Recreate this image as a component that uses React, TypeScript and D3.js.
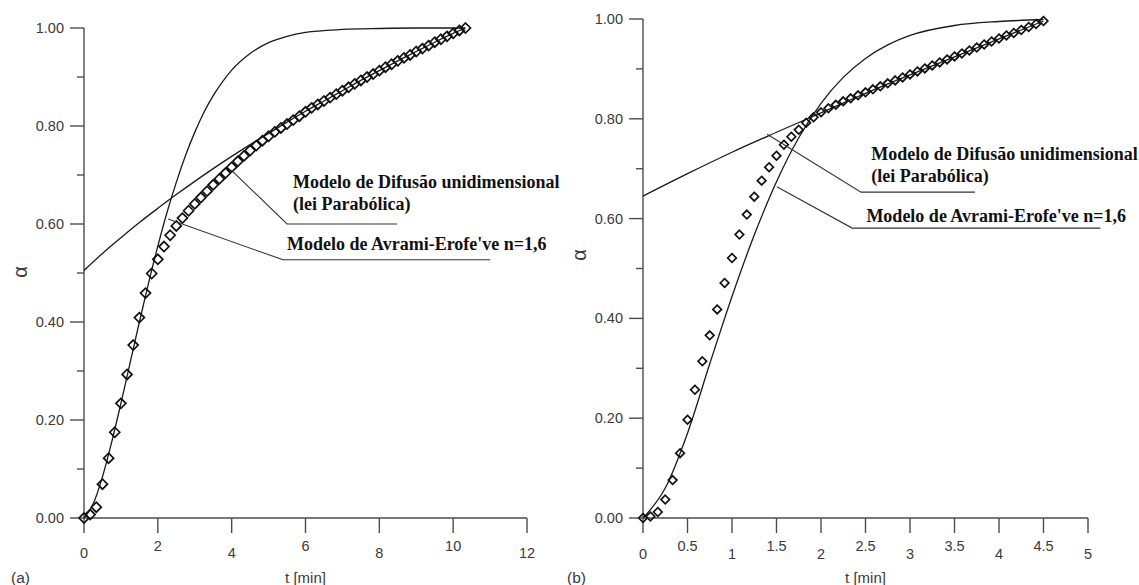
import React from "react";
import * as d3 from "d3";

// ---------- Panel (a): measurements every 10 s ----------
const sampleStepA = 1 / 6; // min
const alphaExpA = [
  0.0, 0.007, 0.022, 0.069, 0.122, 0.175, 0.234, 0.293, 0.353, 0.409,
  0.459, 0.499, 0.528, 0.554, 0.577, 0.596, 0.612, 0.627, 0.641, 0.654,
  0.667, 0.68, 0.692, 0.704, 0.716, 0.728, 0.739, 0.75, 0.76, 0.77,
  0.779, 0.788, 0.796, 0.804, 0.812, 0.82, 0.829, 0.837, 0.844, 0.851,
  0.858, 0.865, 0.872, 0.879, 0.886, 0.893, 0.9, 0.906, 0.913, 0.92,
  0.926, 0.933, 0.939, 0.945, 0.952, 0.958, 0.964, 0.971, 0.977, 0.983,
  0.989, 0.995, 1.0,
];

// Avrami-Erofe'ev model (n = 1.6), panel (a)
const avramiTA = [0, 0.25, 0.5, 0.75, 1.0, 1.25, 1.5, 1.75, 2.0, 2.25, 2.5, 2.75, 3.0, 3.25, 3.5, 3.75, 4.0, 4.5, 5.0, 5.5, 6.0, 7.0, 8.0, 9.0, 10.33];
const avramiAlphaA = [0, 0.029, 0.084, 0.155, 0.234, 0.317, 0.4, 0.48, 0.555, 0.624, 0.685, 0.74, 0.787, 0.828, 0.862, 0.89, 0.914, 0.948, 0.97, 0.983, 0.991, 0.997, 0.999, 1.0, 1.0];

// One-dimensional diffusion model (parabolic law), panel (a)
const diffTA = [0, 0.5, 1, 1.5, 2, 2.5, 3, 3.5, 4, 4.5, 5, 5.5, 6, 6.5, 7, 7.5, 8, 8.5, 9, 9.5, 10, 10.33];
const diffAlphaA = [0.505, 0.54, 0.572, 0.603, 0.632, 0.66, 0.687, 0.713, 0.738, 0.762, 0.785, 0.808, 0.83, 0.851, 0.872, 0.893, 0.913, 0.933, 0.952, 0.971, 0.989, 1.0];

// ---------- Panel (b): measurements every 5 s ----------
const sampleStepB = 1 / 12; // min
const alphaExpB = [
  0.0, 0.003, 0.012, 0.037, 0.076, 0.13, 0.197, 0.257, 0.314, 0.366,
  0.418, 0.471, 0.521, 0.568, 0.608, 0.644, 0.676, 0.703, 0.726, 0.748,
  0.764, 0.778, 0.792, 0.803, 0.813, 0.821, 0.828, 0.835, 0.841, 0.847,
  0.853, 0.859, 0.865, 0.871, 0.877, 0.883, 0.889, 0.895, 0.901, 0.907,
  0.913, 0.919, 0.925, 0.931, 0.937, 0.943, 0.949, 0.955, 0.961, 0.967,
  0.972, 0.978, 0.984, 0.99, 0.996,
];

// Avrami-Erofe'ev model (n = 1.6), panel (b)
const avramiTB = [0, 0.25, 0.5, 0.75, 1.0, 1.25, 1.5, 1.75, 2.0, 2.25, 2.5, 2.75, 3.0, 3.5, 4.0, 4.5];
const avramiAlphaB = [0, 0.06, 0.17, 0.309, 0.444, 0.567, 0.674, 0.762, 0.831, 0.883, 0.921, 0.948, 0.967, 0.987, 0.995, 0.999];

// One-dimensional diffusion model (parabolic law), panel (b)
const diffTB = [0, 0.5, 1.0, 1.5, 2.0, 2.5, 3.0, 3.5, 4.0, 4.5];
const diffAlphaB = [0.645, 0.69, 0.733, 0.773, 0.812, 0.851, 0.888, 0.924, 0.96, 0.996];

// Axis ticks
const yTicks = [0, 0.2, 0.4, 0.6, 0.8, 1.0];
const yMinorTicks = [0.1, 0.3, 0.5, 0.7, 0.9];
const xTicksA = [0, 2, 4, 6, 8, 10, 12];
const xTicksB = [0, 0.5, 1, 1.5, 2, 2.5, 3, 3.5, 4, 4.5, 5];

const modelDiff = ["Modelo de Difusão unidimensional", "(lei Parabólica)"];
const modelAvrami = "Modelo de Avrami-Erofe've n=1,6";

type Pt = [number, number];

interface PanelProps {
  tag: string;
  x0: number;
  x1: number;
  yTop: number;
  yBottom: number;
  xMax: number;
  xTicks: number[];
  step: number;
  exp: number[];
  avT: number[];
  avA: number[];
  dfT: number[];
  dfA: number[];
  marker: number;
  diffLeader: Pt[]; // data coords: start, elbow, end
  avLeader: Pt[];
  diffText: Pt; // data coords of the first line's start
  diffLineGap: number;
  avText: Pt;
  alphaPos: Pt;
  tagX: number;
  lowOffset: number;
  highOffset: number;
}

const axisColor = "#4d4d4d";
const labelColor = "#3a3a3a";
const sansFont = "'Liberation Sans', Arial, sans-serif";
const serifFont = "'Liberation Serif', 'Times New Roman', serif";
const noteSize = 18;

function Panel(p: PanelProps) {
  const x = d3.scaleLinear().domain([0, p.xMax]).range([p.x0, p.x1]);
  const y = d3.scaleLinear().domain([0, 1]).range([p.yBottom, p.yTop]);

  const line = d3
    .line<Pt>()
    .x((d) => x(d[0]))
    .y((d) => y(d[1]))
    .curve(d3.curveMonotoneX);

  const avPts: Pt[] = p.avT.map((t, i) => [t, p.avA[i]]);
  const dfPts: Pt[] = p.dfT.map((t, i) => [t, p.dfA[i]]);
  const expPts: Pt[] = p.exp.map((a, k) => [k * p.step, a]);

  const r = p.marker;
  const diamond = `M0,${-r}L${r},0L0,${r}L${-r},0Z`;

  const leaderPath = (pts: Pt[]) =>
    "M" + pts.map((q) => `${x(q[0])},${y(q[1])}`).join("L");

  const xLabels = p.xTicks.map((v, i) => ({ v, low: i % 2 === 0 }));

  return (
    <g>
      {/* axes */}
      <line x1={p.x0} x2={p.x0} y1={p.yTop} y2={p.yBottom} stroke={axisColor} strokeWidth={1.4} />
      <line x1={p.x0} x2={p.x1} y1={p.yBottom} y2={p.yBottom} stroke={axisColor} strokeWidth={1.4} />
      {yTicks.map((v) => (
        <g key={"yt" + v}>
          <line x1={p.x0 - 14} x2={p.x0} y1={y(v)} y2={y(v)} stroke={axisColor} strokeWidth={1.4} />
          <text
            x={p.x0 - 20}
            y={y(v)}
            dy="0.35em"
            textAnchor="end"
            fontFamily={sansFont}
            fontSize={14.5}
            fill={labelColor}
          >
            {d3.format(".2f")(v)}
          </text>
        </g>
      ))}
      {yMinorTicks.map((v) => (
        <line key={"ym" + v} x1={p.x0 - 7} x2={p.x0} y1={y(v)} y2={y(v)} stroke={axisColor} strokeWidth={1.4} />
      ))}
      {xLabels.map(({ v, low }) => (
        <g key={"xt" + v}>
          <line x1={x(v)} x2={x(v)} y1={p.yBottom} y2={p.yBottom + 15} stroke={axisColor} strokeWidth={1.4} />
          <text
            x={x(v)}
            y={p.yBottom + (low ? p.lowOffset : p.highOffset)}
            textAnchor="middle"
            fontFamily={sansFont}
            fontSize={14.5}
            fill={labelColor}
          >
            {String(v)}
          </text>
        </g>
      ))}
      <text
        x={(p.x0 + p.x1) / 2}
        y={583}
        textAnchor="middle"
        fontFamily={sansFont}
        fontSize={15}
        fill={labelColor}
      >
        t [min]
      </text>
      <text x={p.tagX} y={583} fontFamily={sansFont} fontSize={15.5} fill={labelColor}>
        {p.tag}
      </text>
      <text
        transform={`translate(${p.alphaPos[0]},${p.alphaPos[1]}) rotate(-90)`}
        textAnchor="middle"
        fontFamily={sansFont}
        fontSize={20}
        fill={labelColor}
      >
        α
      </text>

      {/* model curves */}
      <path d={line(dfPts) ?? ""} fill="none" stroke="#1a1a1a" strokeWidth={1.3} />
      <path d={line(avPts) ?? ""} fill="none" stroke="#1a1a1a" strokeWidth={1.3} />

      {/* experimental points */}
      {expPts.map((d, i) => (
        <path
          key={"e" + i}
          d={diamond}
          transform={`translate(${x(d[0])},${y(d[1])})`}
          fill="none"
          stroke="#111"
          strokeWidth={1.7}
        />
      ))}

      {/* annotations */}
      <path d={leaderPath(p.diffLeader)} fill="none" stroke="#333" strokeWidth={1.1} />
      <path d={leaderPath(p.avLeader)} fill="none" stroke="#333" strokeWidth={1.1} />
      <text
        x={x(p.diffText[0])}
        y={y(p.diffText[1])}
        fontFamily={serifFont}
        fontWeight="bold"
        fontSize={noteSize}
        fill="#111"
      >
        {modelDiff[0]}
      </text>
      <text
        x={x(p.diffText[0])}
        y={y(p.diffText[1]) + p.diffLineGap}
        fontFamily={serifFont}
        fontWeight="bold"
        fontSize={noteSize}
        fill="#111"
      >
        {modelDiff[1]}
      </text>
      <text
        x={x(p.avText[0])}
        y={y(p.avText[1])}
        fontFamily={serifFont}
        fontWeight="bold"
        fontSize={noteSize}
        fill="#111"
      >
        {modelAvrami}
      </text>
    </g>
  );
}

export default function App() {
  return (
    <div style={{ position: "fixed", left: 0, top: 0 }}>
      <svg width={1139} height={585} style={{ display: "block", background: "#fff" }}>
        <Panel
          tag="(a)"
          x0={84}
          x1={527}
          yTop={28}
          yBottom={518}
          xMax={12}
          xTicks={xTicksA}
          step={sampleStepA}
          exp={alphaExpA}
          avT={avramiTA}
          avA={avramiAlphaA}
          dfT={diffTA}
          dfA={diffAlphaA}
          marker={5}
          diffLeader={[[3.99, 0.71], [5.5, 0.6], [8.48, 0.6]]}
          avLeader={[[2.28, 0.61], [5.39, 0.527], [11.0, 0.527]]}
          diffText={[5.66, 0.673]}
          diffLineGap={22}
          avText={[5.5, 0.547]}
          alphaPos={[27, 272]}
          tagX={11}
          lowOffset={40}
          highOffset={33}
        />
        <Panel
          tag="(b)"
          x0={643}
          x1={1088}
          yTop={19}
          yBottom={518}
          xMax={5}
          xTicks={xTicksB}
          step={sampleStepB}
          exp={alphaExpB}
          avT={avramiTB}
          avA={avramiAlphaB}
          dfT={diffTB}
          dfA={diffAlphaB}
          marker={4.3}
          diffLeader={[[1.395, 0.769], [2.45, 0.653], [3.73, 0.653]]}
          avLeader={[[1.504, 0.664], [2.35, 0.581], [5.14, 0.581]]}
          diffText={[2.565, 0.717]}
          diffLineGap={22}
          avText={[2.51, 0.593]}
          alphaPos={[586, 255]}
          tagX={567}
          lowOffset={41}
          highOffset={33}
        />
      </svg>
    </div>
  );
}
